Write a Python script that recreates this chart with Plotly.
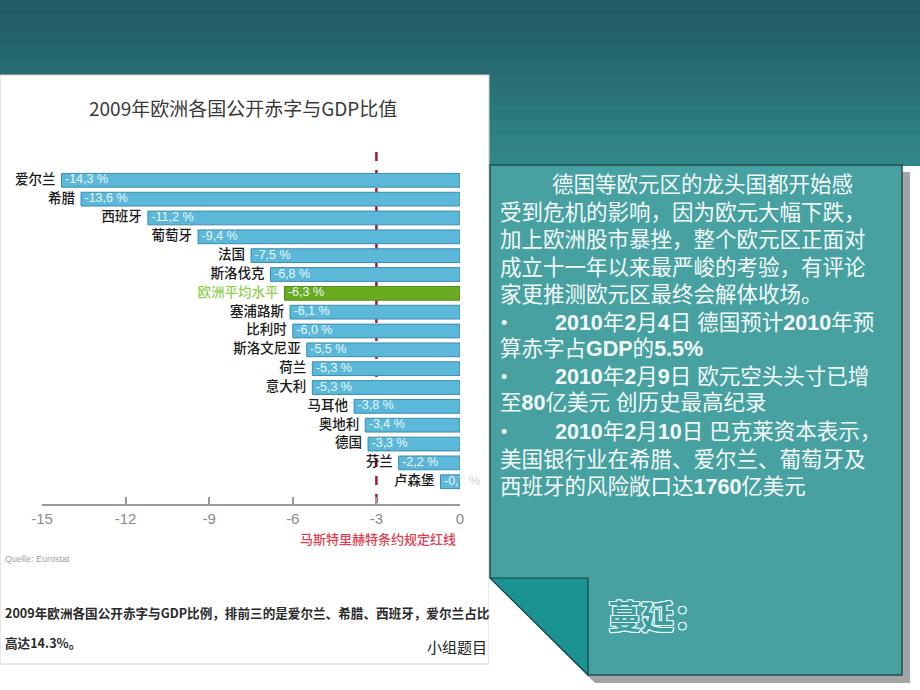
import plotly.graph_objects as go

# data
countries = ["爱尔兰", "希腊", "西班牙", "葡萄牙", "法国", "斯洛伐克", "欧洲平均水平",
             "塞浦路斯", "比利时", "斯洛文尼亚", "荷兰", "意大利", "马耳他", "奥地利",
             "德国", "芬兰", "卢森堡"]
deficit = [-14.3, -13.6, -11.2, -9.4, -7.5, -6.8, -6.3, -6.1, -6.0, -5.5, -5.3, -5.3,
           -3.8, -3.4, -3.3, -2.2, -0.7]
avg_name = "欧洲平均水平"
tick_vals = [-15, -12, -9, -6, -3, 0]
tick_text = ["-15", "-12", "-9", "-6", "-3", "0"]
red_line_x = -3

W, H = 920, 690
CJK = "Noto Sans CJK SC"


def px(x):
    return x / W


def py(y):
    return 1 - y / H


def label(v, name):
    s = f"{v:.1f}".replace(".", ",")
    if name == "卢森堡":
        return s + " <span style='color:#c8d4d8'>%</span>"
    return s + " %"


bar_colors = ["#6aab22" if c == avg_name else "#5cb8d8" for c in countries]
line_colors = ["#4f8a12" if c == avg_name else "#3a8db0" for c in countries]
name_colors = ["#8fd052" if c == avg_name else "#1a1a1a" for c in countries]

fig = go.Figure()

fig.add_trace(go.Bar(
    x=deficit, y=countries, orientation="h",
    marker=dict(color=bar_colors, line=dict(color=line_colors, width=1)),
    hoverinfo="x+y", showlegend=False
))

# value labels at the left end of each bar
fig.add_trace(go.Scatter(
    x=deficit, y=countries, mode="markers+text",
    text=[label(v, c) for v, c in zip(deficit, countries)],
    textposition="middle right",
    marker=dict(size=4, opacity=0),
    textfont=dict(family="Liberation Sans Narrow, Liberation Sans", size=12.5, color="#e8f7fb"),
    cliponaxis=False, showlegend=False, hoverinfo="skip"
))

# country names left of each bar
fig.add_trace(go.Scatter(
    x=deficit, y=countries, mode="markers+text",
    text=countries, textposition="middle left",
    marker=dict(size=8, opacity=0),
    textfont=dict(family=CJK, size=13.5, color=name_colors, weight=500),
    cliponaxis=False, showlegend=False, hoverinfo="skip"
))

shapes = []
# top teal band (stepped gradient)
band = ["#225b63", "#235f67", "#24636a", "#26676d", "#276b70", "#297073",
        "#2a7477", "#2c797b", "#2d7e7f", "#2f8383", "#308787"]
step = 165 / len(band)
for i, c in enumerate(band):
    shapes.append(dict(type="rect", xref="paper", yref="paper", layer="below",
                       x0=0, x1=1, y0=py(i * step + step + 1), y1=py(i * step),
                       fillcolor=c, line=dict(width=0)))
# left picture panel
shapes.append(dict(type="rect", xref="paper", yref="paper", layer="below",
                   x0=0, x1=px(489), y0=py(664), y1=py(75),
                   fillcolor="white", line=dict(color="#d0d0d0", width=1)))
# Maastricht red line
shapes.append(dict(type="line", xref="x", yref="paper", layer="below",
                   x0=red_line_x, x1=red_line_x, y0=py(503), y1=py(151),
                   line=dict(color="#a8192e", width=2.5, dash="dash")))


# right text box: shadow, box, folded corner
def path(pts):
    return "M " + " L ".join(f"{px(x)},{py(y)}" for x, y in pts) + " Z"


shapes.append(dict(type="rect", xref="paper", yref="paper",
                   x0=px(497), x1=px(910), y0=py(683), y1=py(172),
                   fillcolor="#a4a4a4", line=dict(width=0)))
shapes.append(dict(type="rect", xref="paper", yref="paper",
                   x0=px(490), x1=px(902), y0=py(675), y1=py(165),
                   fillcolor="#47a1a1", line=dict(color="#1f4d4d", width=1.5)))
shapes.append(dict(type="path", xref="paper", yref="paper",
                   path=path([(489, 577), (489, 690), (602, 690)]),
                   fillcolor="white", line=dict(width=0)))
shapes.append(dict(type="path", xref="paper", yref="paper",
                   path=path([(490, 578), (588, 578), (588, 675)]),
                   fillcolor="#1c9393", line=dict(color="#17403f", width=1.2)))

ann = []


def text(x, y, s, size, color, family=CJK, anchor="left", **kw):
    ann.append(dict(x=px(x), y=py(y), xref="paper", yref="paper", text=s,
                    showarrow=False, xanchor=anchor, yanchor="middle",
                    font=dict(family=family, size=size, color=color, **kw)))


text(243, 108, "2009年欧洲各国公开赤字与GDP比值", 19, "#3a3a3a", anchor="center")
text(458, 538, "马斯特里赫特条约规定红线", 13, "#e0404f", anchor="right", weight=500)
text(3, 559, "Quelle: Eurostat", 9, "#a0a0a0", family="Liberation Sans Narrow, Liberation Sans")
text(3, 612, "2009年欧洲各国公开赤字与GDP比例，排前三的是爱尔兰、希腊、西班牙，爱尔兰占比",
     12.6, "#2a2a2a", weight=600)
text(3, 642, "高达14.3%。", 12.6, "#2a2a2a", weight=600)
text(425, 646, "小组题目", 15, "#222222")

# right box text
LAT = "Liberation Sans, " + CJK
lines = [
    (550, 185, "德国等欧元区的龙头国都开始感"),
    (498, 213, "受到危机的影响，因为欧元大幅下跌，"),
    (498, 240, "加上欧洲股市暴挫，整个欧元区正面对"),
    (498, 268, "成立十一年以来最严峻的考验，有评论"),
    (498, 295, "家更推测欧元区最终会解体收场。"),
    (553, 323, "<b>2010</b>年<b>2</b>月<b>4</b>日 德国预计<b>2010</b>年预"),
    (498, 349, "算赤字占<b>GDP</b>的<b>5.5%</b>"),
    (553, 377, "<b>2010</b>年<b>2</b>月<b>9</b>日 欧元空头头寸已增"),
    (498, 403, "至<b>80</b>亿美元 创历史最高纪录"),
    (553, 432, "<b>2010</b>年<b>2</b>月<b>10</b>日 巴克莱资本表示，"),
    (498, 460, "美国银行业在希腊、爱尔兰、葡萄牙及"),
    (498, 487, "西班牙的风险敞口达<b>1760</b>亿美元"),
]
for x, y, s in lines:
    text(x, y, s, 21.5, "#f4fbfb", family=LAT)
for y in (323, 377, 432):
    text(499, y, "•", 18, "#f4fbfb", family="Liberation Sans")

outline = ", ".join(f"{dx}px {dy}px 0 #e8fbfb" for dx in (-1, 0, 1) for dy in (-1, 0, 1)
                    if (dx, dy) != (0, 0))
text(606, 615, "蔓延：", 33, "#3f9c9c", weight=700, shadow=outline)

fig.update_layout(
    width=W, height=H,
    margin=dict(l=0, r=0, t=0, b=0, pad=0),
    paper_bgcolor="white", plot_bgcolor="rgba(0,0,0,0)",
    bargap=0.27,
    shapes=shapes, annotations=ann,
    xaxis=dict(domain=[px(42), px(460)], range=[-15, 0], tickvals=tick_vals,
               ticktext=tick_text, showgrid=False, zeroline=False, automargin=False,
               showline=True, linecolor="#9a9a9a", linewidth=1.5,
               ticks="inside", ticklen=7, tickcolor="#9a9a9a", tickwidth=1.5,
               tickfont=dict(family="Liberation Sans Narrow, Liberation Sans",
                             size=15, color="#8a8a8a")),
    yaxis=dict(domain=[py(504), py(158)], autorange="reversed", showticklabels=False,
               showgrid=False, zeroline=False, showline=False, ticks="",
               automargin=False),
)

fig.write_html("out.html", config={"displayModeBar": False},
               post_script="document.body.style.margin='0';document.body.style.overflow='hidden';")
